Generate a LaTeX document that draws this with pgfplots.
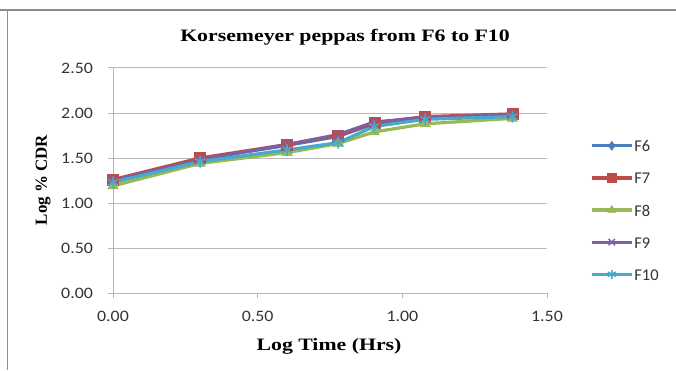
\documentclass[border=0pt]{standalone}
\usepackage{pgfplots}
\pgfplotsset{compat=1.18}
\usepackage{fontspec}
\setmainfont{Carlito}
\newfontfamily\tnr{Liberation Serif}
\definecolor{cF6}{HTML}{4A7EBB}
\definecolor{cF7}{HTML}{BE4B48}
\definecolor{cF8}{HTML}{98B954}
\definecolor{cF9}{HTML}{7D60A0}
\definecolor{cF10}{HTML}{46AACC}
\definecolor{gridc}{HTML}{B8B8B8}
\definecolor{framec}{HTML}{8C8C8C}
\begin{document}
\begin{tikzpicture}[x=1bp,y=1bp]
\useasboundingbox (0,0) rectangle (676,370);
\draw[framec, line width=1.5bp] (0,360) -- (676,360);
\draw[framec, line width=1.5bp] (7.5,0) -- (7.5,360);
\begin{axis}[
  at={(113bp,77bp)}, anchor=south west,
  scale only axis, width=434bp, height=225bp,
  xmin=0, xmax=1.5, ymin=0, ymax=2.5,
  xtick={0,0.5,1,1.5}, ytick={0,0.5,1,1.5,2,2.5},
  axis x line*=bottom, axis y line*=left,
  axis line style={gridc, line width=1bp, -},
  tick style={gridc, line width=1bp},
  tick align=outside, major tick length=5bp,
  ymajorgrids, grid style={gridc, line width=1bp},
  /pgf/number format/fixed, /pgf/number format/fixed zerofill, /pgf/number format/precision=2,
  /pgf/number format/assume math mode=true,
  ticklabel style={font=\fontsize{16}{18}\selectfont, text=black!80, xscale=1.12},
  xticklabel style={yshift=-10bp},
  yticklabel style={xshift=-10bp},
  clip=false,
  every axis plot/.append style={line width=3.2bp},
  legend style={draw=none, fill=none, at={(1.099,0.686)}, anchor=north west,
     font=\fontsize{16.5}{18}\selectfont, text=black!80,
     row sep=18.1bp, inner sep=0pt,
     nodes={inner sep=1bp, text height=12bp, text depth=0bp}},
  legend cell align=left,
  legend image code/.code={
    \draw[mark repeat=2, mark phase=2, #1, mark size=4.5bp] plot coordinates {(0bp,0bp) (20bp,0bp) (40bp,0bp)};
  },
]
\addplot[cF6, mark=diamond*, mark size=6bp, mark options={solid, line width=0.5bp}] coordinates {
(0,1.25) (0.301,1.49) (0.602,1.64) (0.778,1.74) (0.903,1.88) (1.079,1.95) (1.380,1.98)};
\addlegendentry{F6}
\addplot[cF7, mark=square*, mark size=5.5bp, mark options={solid, line width=0.5bp}] coordinates {
(0,1.26) (0.301,1.50) (0.602,1.65) (0.778,1.75) (0.903,1.89) (1.079,1.96) (1.380,1.99)};
\addlegendentry{F7}
\addplot[cF8, mark=triangle*, mark size=6bp, mark options={solid, line width=0.5bp}] coordinates {
(0,1.19) (0.301,1.44) (0.602,1.56) (0.778,1.66) (0.903,1.79) (1.079,1.88) (1.380,1.94)};
\addlegendentry{F8}
\addplot[cF9, mark=x, mark size=6bp, mark options={solid, line width=1.5bp}] coordinates {
(0,1.25) (0.301,1.48) (0.602,1.65) (0.778,1.76) (0.903,1.90) (1.079,1.95) (1.380,1.98)};
\addlegendentry{F9}
\addplot[cF10, mark=asterisk, mark size=6bp, mark options={solid, line width=1.5bp}] coordinates {
(0,1.23) (0.301,1.46) (0.602,1.59) (0.778,1.67) (0.903,1.85) (1.079,1.93) (1.380,1.96)};
\addlegendentry{F10}
\end{axis}
\node[font=\tnr\bfseries\fontsize{17.5}{20}\selectfont, xscale=1.25] at (345,333) {Korsemeyer peppas from F6 to F10};
\node[font=\tnr\bfseries\fontsize{17.5}{20}\selectfont, xscale=1.25] at (329,24) {Log Time (Hrs)};
\node[font=\tnr\bfseries\fontsize{17}{20}\selectfont, rotate=90] at (43,190) {Log \% CDR};
\end{tikzpicture}
\end{document}
